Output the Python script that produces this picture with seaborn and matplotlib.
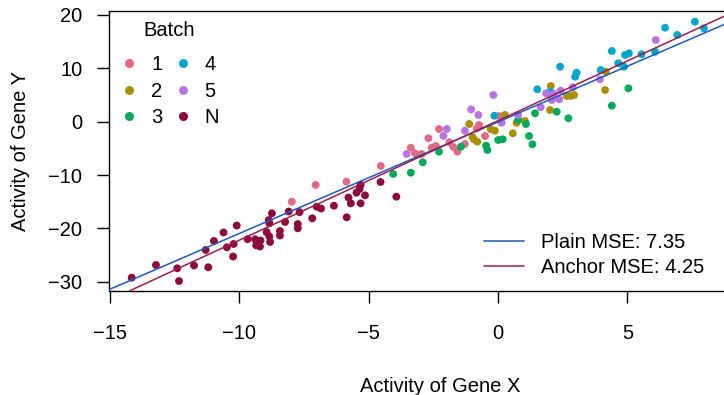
import matplotlib
matplotlib.use("Agg")
import matplotlib.pyplot as plt
from matplotlib.lines import Line2D
import pandas as pd
import seaborn as sns

# ----------------------------------------------------------
# data
# ----------------------------------------------------------

batch_order = ['1', '2', '3', '4', '5', 'N']
batch_colors = ['#E16A86', '#AA9000', '#00AA5A', '#00A6CA', '#B675E0', '#8C0B3C']

n_x = [-14.16, -13.22, -12.40, -12.33, -11.75, -11.20, -11.30, -10.98, -10.61,
       -10.48, -10.24, -10.22, -10.10, -9.68, -9.39, -9.35, -9.18, -9.20, -8.94,
       -8.84, -8.81, -8.86, -8.74, -8.84, -8.43, -8.43, -8.23, -8.09, -7.74,
       -7.74, -7.67, -7.18, -7.01, -6.84, -6.34, -5.85, -5.78, -5.69, -5.47,
       -5.31, -5.35, -5.31, -5.14, -4.54, -3.93]
n_y = [-29.24, -26.86, -27.48, -29.86, -26.95, -27.29, -24.05, -22.36, -20.77,
       -23.54, -25.27, -22.92, -19.46, -22.02, -22.04, -23.17, -22.27, -23.39,
       -20.71, -21.52, -22.55, -18.43, -17.17, -19.04, -20.49, -21.33, -18.80,
       -16.83, -19.18, -19.98, -16.96, -18.11, -15.93, -16.27, -15.75, -17.92,
       -14.21, -15.30, -13.31, -11.83, -12.61, -15.30, -13.80, -11.30, -14.06]

b1_x = [-7.97, -7.05, -5.86, -4.53, -3.37, -3.21, -2.95, -2.69, -2.56, -2.40,
        -2.28, -1.88, -1.73, -1.57, -1.28, -0.82, -0.73, -0.50, 0.04]
b1_y = [-15.00, -11.86, -11.25, -8.30, -4.87, -5.92, -6.05, -3.11, -4.87, -4.55,
        -1.37, -3.86, -4.69, -5.62, -4.18, -1.24, -0.62, -2.68, 1.07]

b2_x = [-1.11, -0.98, -0.93, -0.80, -0.28, -0.12, 0.27, 0.57, 0.72, 1.04,
        2.01, 2.04, 2.66, 2.81, 2.94, 4.14, 4.17]
b2_y = [-0.43, -2.92, -3.30, -3.75, -1.42, -1.69, 1.26, -2.17, -0.19, 0.13,
        2.19, 6.69, 4.82, 4.82, 5.00, 5.94, 9.37]

b3_x = [-4.05, -3.37, -2.91, -2.28, -1.43, -0.46, -0.41, 0.01, 0.18, 0.78,
        1.08, 1.20, 1.33, 1.43, 2.27, 2.72, 4.40, 5.04]
b3_y = [-9.80, -9.56, -7.61, -5.62, -4.69, -4.50, -5.30, -3.43, -3.30, 0.32,
        -0.43, -2.68, -4.24, 1.57, 1.87, 0.64, 3.00, 6.26]

b4_x = [-0.14, 1.52, 2.01, 2.40, 2.98, 3.04, 3.97, 4.40, 4.65, 4.87, 4.91,
        5.06, 5.55, 6.07, 6.46, 6.93, 7.61, 7.96]
b4_y = [1.12, 6.07, 5.62, 10.31, 8.43, 9.18, 9.69, 13.25, 10.95, 10.31, 12.50,
        12.82, 12.63, 13.12, 17.62, 16.25, 18.74, 17.51]

b5_x = [-3.53, -2.11, -1.98, -1.28, -1.04, -0.76, -0.18, 0.14, 0.78, 1.65,
        1.86, 2.16, 2.08, 2.37, 2.42, 2.89, 3.94, 6.10]
b5_y = [-6.05, -2.68, -1.37, -1.69, 2.32, 1.26, 5.00, -0.19, 1.26, 2.70,
        5.32, 5.19, 4.07, 4.20, 5.81, 6.45, 7.95, 15.31]

# fitted lines: intercept, slope
fit_names = ['Plain MSE: 7.35', 'Anchor MSE: 4.25']
fit_intercepts = [-0.05, 0.19]
fit_slopes = [2.09, 2.24]
fit_colors = ['#1F58C2', '#9E1C4C']

x_ticks = [-15, -10, -5, 0, 5]
y_ticks = [-30, -20, -10, 0, 10, 20]

# ----------------------------------------------------------

def build_frame():
    parts = []
    for name, xs, ys in [('N', n_x, n_y), ('1', b1_x, b1_y), ('2', b2_x, b2_y),
                         ('3', b3_x, b3_y), ('4', b4_x, b4_y), ('5', b5_x, b5_y)]:
        parts.append(pd.DataFrame({'gene_x': xs, 'gene_y': ys, 'batch': name}))
    return pd.concat(parts, ignore_index=True)


def main():
    sns.set_style('white')
    plt.rcParams['font.family'] = ['Liberation Sans', 'DejaVu Sans']
    plt.rcParams['font.size'] = 14.5
    plt.rcParams['text.color'] = 'black'
    plt.rcParams['axes.labelcolor'] = 'black'

    df = build_frame()
    palette = dict(zip(batch_order, batch_colors))

    fig = plt.figure(figsize=(7.24, 3.95), dpi=100)
    W, H = 724.0, 395.0
    left, right, top, bottom = 109.5, 770.0, 11.0, 291.0
    ax = fig.add_axes([left / W, 1 - bottom / H, (right - left) / W, (bottom - top) / H])

    sns.scatterplot(data=df, x='gene_x', y='gene_y', hue='batch',
                    hue_order=batch_order, palette=palette,
                    s=32, linewidth=0, legend=False, ax=ax, zorder=2)

    for b0, b1, col in zip(fit_intercepts, fit_slopes, fit_colors):
        ax.axline((0, b0), slope=b1, color=col, lw=1.1, zorder=3)

    ax.set_xlim((left - 498.0) / 25.87, (right - 498.0) / 25.87)
    ax.set_ylim((121.7 - bottom) / 5.335, (121.7 - top) / 5.335)
    ax.set_xticks(x_ticks)
    ax.set_yticks(y_ticks)

    for side in ['left', 'bottom', 'top', 'right']:
        ax.spines[side].set_color('black')
        ax.spines[side].set_linewidth(1.0)
    ax.tick_params(axis='both', direction='out', length=8.5, width=1.0,
                   color='black', labelcolor='black', bottom=True, left=True)
    ax.tick_params(axis='x', pad=15)
    ax.tick_params(axis='y', pad=11)
    ax.grid(False)

    ax.set_xlabel('Activity of Gene X', labelpad=25)
    ax.set_ylabel('Activity of Gene Y', labelpad=13)

    batch_handles = [
        Line2D([], [], marker='o', ls='', markersize=6.5, markeredgewidth=0,
               color=palette[b], label=b)
        for b in batch_order
    ]
    leg1 = ax.legend(handles=batch_handles, title='Batch', ncol=2,
                     loc='upper left', bbox_to_anchor=(-0.007, 1.013),
                     frameon=False, handlelength=1.0, handletextpad=0.6,
                     columnspacing=0.5, labelspacing=0.38,
                     fontsize=14.5, title_fontsize=14.5, borderaxespad=0.3)
    leg1._legend_box.sep = 10.5
    ax.add_artist(leg1)

    fit_handles = [
        Line2D([], [], color=col, lw=1.1, label=name)
        for name, col in zip(fit_names, fit_colors)
    ]
    ax.legend(handles=fit_handles, loc='lower left',
              bbox_to_anchor=((470 - left) / (right - left), 0.0),
              frameon=False, handlelength=2.0, handletextpad=0.85,
              labelspacing=0.3, fontsize=14.5, borderaxespad=0.3)

    fig.savefig('out.png', dpi=100)
    return 0


if __name__ == '__main__':
    main()
